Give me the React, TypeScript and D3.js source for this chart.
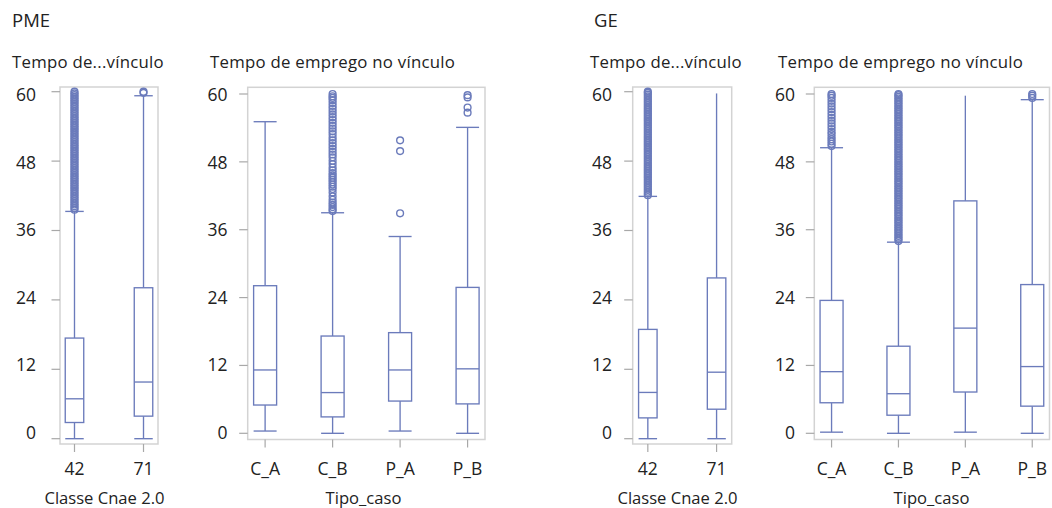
import React from "react";
import * as d3 from "d3";

// ---------- DATA ----------
const yTicks = [0, 12, 24, 36, 48, 60];

const cnaeCats = ["42", "71"];
const tipoCats = ["C_A", "C_B", "P_A", "P_B"];

// PME – Classe Cnae 2.0
const pmeCnaeLow = [0, 0];
const pmeCnaeQ1 = [2.8, 3.9];
const pmeCnaeMed = [6.9, 9.8];
const pmeCnaeQ3 = [17.4, 26.1];
const pmeCnaeHigh = [39.3, 59.3];
const pmeCnaeCap = [true, true];
const pmeCnaeOut42 = [39.6, 39.9, 40.2, 40.5, 40.8, 41.1, 41.4, 41.7, 42.0, 42.3, 42.6, 42.9, 43.2, 43.5, 43.8, 44.1, 44.4, 44.7, 45.0, 45.3, 45.6, 45.9, 46.2, 46.5, 46.8, 47.1, 47.4, 47.7, 48.0, 48.3, 48.6, 48.9, 49.2, 49.5, 49.8, 50.1, 50.4, 50.7, 51.0, 51.3, 51.6, 51.9, 52.2, 52.5, 52.8, 53.1, 53.4, 53.7, 54.0, 54.3, 54.6, 54.9, 55.2, 55.5, 55.8, 56.1, 56.4, 56.7, 57.0, 57.3, 57.6, 57.9, 58.2, 58.5, 58.8, 59.1, 59.4, 59.7, 60.0];
const pmeCnaeOut71 = [59.8, 60.0];

// PME – Tipo_caso
const pmeTipoLow = [0.4, 0, 0.4, 0];
const pmeTipoQ1 = [5.0, 2.9, 5.7, 5.2];
const pmeTipoMed = [11.2, 7.2, 11.2, 11.4];
const pmeTipoQ3 = [26.1, 17.2, 17.8, 25.8];
const pmeTipoHigh = [55.1, 39.0, 34.8, 54.1];
const pmeTipoCap = [true, true, true, true];
const pmeTipoOutCA: number[] = [];
const pmeTipoOutCB = [39.3, 39.6, 40.0, 40.4, 40.8, 41.3, 41.9, 42.6, 43.2, 43.6, 44.0, 44.4, 44.8, 45.2, 45.6, 46.0, 46.5, 47.0, 47.6, 48.2, 48.8, 49.3, 49.8, 50.3, 50.8, 51.3, 51.8, 52.3, 52.9, 53.4, 53.9, 54.4, 54.9, 55.4, 55.9, 56.4, 56.9, 57.4, 57.9, 58.4, 58.9, 59.3, 59.6, 60.0];
const pmeTipoOutPA = [38.9, 49.9, 51.8];
const pmeTipoOutPB = [56.7, 57.6, 59.4, 59.8];

// GE – Classe Cnae 2.0
const geCnaeLow = [0, 0];
const geCnaeQ1 = [3.6, 5.1];
const geCnaeMed = [8.0, 11.5];
const geCnaeQ3 = [18.9, 27.8];
const geCnaeHigh = [41.9, 59.7];
const geCnaeCap = [true, false];
const geCnaeOut42 = [42.1, 42.4, 42.7, 43.0, 43.3, 43.6, 43.9, 44.2, 44.5, 44.8, 45.1, 45.4, 45.7, 46.0, 46.3, 46.6, 46.9, 47.2, 47.5, 47.8, 48.1, 48.4, 48.7, 49.0, 49.3, 49.6, 49.9, 50.2, 50.5, 50.8, 51.1, 51.4, 51.7, 52.0, 52.3, 52.6, 52.9, 53.2, 53.5, 53.8, 54.1, 54.4, 54.7, 55.0, 55.3, 55.6, 55.9, 56.2, 56.5, 56.8, 57.1, 57.4, 57.7, 58.0, 58.3, 58.6, 58.9, 59.2, 59.5, 59.8, 60.0];
const geCnaeOut71: number[] = [];

// GE – Tipo_caso
const geTipoLow = [0.2, 0, 0.2, 0];
const geTipoQ1 = [5.4, 3.2, 7.3, 4.8];
const geTipoMed = [10.9, 7.0, 18.6, 11.8];
const geTipoQ3 = [23.5, 15.4, 41.1, 26.3];
const geTipoHigh = [50.5, 33.8, 59.7, 59.0];
const geTipoCap = [true, true, false, true];
const geTipoOutCA = [50.8, 51.2, 51.6, 52.0, 52.4, 52.9, 53.3, 53.8, 54.3, 54.8, 55.3, 55.8, 56.3, 56.8, 57.3, 57.8, 58.3, 58.8, 59.3, 59.7, 60.0];
const geTipoOutCB = [34.0, 34.3, 34.6, 34.9, 35.2, 35.5, 35.8, 36.1, 36.4, 36.7, 37.0, 37.3, 37.6, 37.9, 38.2, 38.5, 38.8, 39.1, 39.4, 39.7, 40.0, 40.3, 40.6, 40.9, 41.2, 41.5, 41.8, 42.1, 42.4, 42.7, 43.0, 43.3, 43.6, 43.9, 44.2, 44.5, 44.8, 45.1, 45.4, 45.7, 46.0, 46.3, 46.6, 46.9, 47.2, 47.5, 47.8, 48.1, 48.4, 48.7, 49.0, 49.3, 49.6, 49.9, 50.2, 50.5, 50.8, 51.1, 51.4, 51.7, 52.0, 52.3, 52.6, 52.9, 53.2, 53.5, 53.8, 54.1, 54.4, 54.7, 55.0, 55.3, 55.6, 55.9, 56.2, 56.5, 56.8, 57.1, 57.4, 57.7, 58.0, 58.3, 58.6, 58.9, 59.2, 59.5, 59.8, 60.0];
const geTipoOutPA: number[] = [];
const geTipoOutPB = [59.3, 59.7, 60.0];

// ---------- STYLE ----------
const FONT = "'Open Sans', 'Noto Sans', sans-serif";
const BLUE = "#6b7bbb";
const FRAME = "#d3d3d3";
const TICK = "#a8a8a8";
const TEXT = "#222222";

type PanelCfg = {
  x0: number; x1: number; top: number; bottom: number;
  yZero: number; ySixty: number; lblZero: number; lblSixty: number;
  labelRight: number; pad: number; boxW: number;
  cats: string[]; low: number[]; q1: number[]; med: number[]; q3: number[]; high: number[];
  cap: boolean[]; outs: number[][];
  subtitle: string; subX: number; axisTitle: string; axisX: number;
};

const panels: PanelCfg[] = [
  {
    x0: 60, x1: 158, top: 87, bottom: 444, yZero: 438.7, ySixty: 91.7, lblZero: 432.5, lblSixty: 95,
    labelRight: 36, pad: 0.21, boxW: 18.5,
    cats: cnaeCats, low: pmeCnaeLow, q1: pmeCnaeQ1, med: pmeCnaeMed, q3: pmeCnaeQ3, high: pmeCnaeHigh,
    cap: pmeCnaeCap, outs: [pmeCnaeOut42, pmeCnaeOut71],
    subtitle: "Tempo de...vínculo", subX: 12, axisTitle: "Classe Cnae 2.0", axisX: 104.5,
  },
  {
    x0: 247.7, x1: 485, top: 87.3, bottom: 439.5, yZero: 433.3, ySixty: 94, lblZero: 432.5, lblSixty: 95,
    labelRight: 227.5, pad: 0.258, boxW: 23,
    cats: tipoCats, low: pmeTipoLow, q1: pmeTipoQ1, med: pmeTipoMed, q3: pmeTipoQ3, high: pmeTipoHigh,
    cap: pmeTipoCap, outs: [pmeTipoOutCA, pmeTipoOutCB, pmeTipoOutPA, pmeTipoOutPB],
    subtitle: "Tempo de emprego no vínculo", subX: 210, axisTitle: "Tipo_caso", axisX: 363.5,
  },
  {
    x0: 632.7, x1: 731.7, top: 87, bottom: 444, yZero: 438.7, ySixty: 91.7, lblZero: 432.5, lblSixty: 95,
    labelRight: 612, pad: 0.22, boxW: 18.5,
    cats: cnaeCats, low: geCnaeLow, q1: geCnaeQ1, med: geCnaeMed, q3: geCnaeQ3, high: geCnaeHigh,
    cap: geCnaeCap, outs: [geCnaeOut42, geCnaeOut71],
    subtitle: "Tempo de...vínculo", subX: 590, axisTitle: "Classe Cnae 2.0", axisX: 677.5,
  },
  {
    x0: 814.3, x1: 1049.5, top: 87.3, bottom: 439.5, yZero: 433.3, ySixty: 94, lblZero: 432.5, lblSixty: 95,
    labelRight: 795, pad: 0.258, boxW: 23,
    cats: tipoCats, low: geTipoLow, q1: geTipoQ1, med: geTipoMed, q3: geTipoQ3, high: geTipoHigh,
    cap: geTipoCap, outs: [geTipoOutCA, geTipoOutCB, geTipoOutPA, geTipoOutPB],
    subtitle: "Tempo de emprego no vínculo", subX: 778, axisTitle: "Tipo_caso", axisX: 931.5,
  },
];

function Panel({ p }: { p: PanelCfg }) {
  const x = d3.scalePoint<string>().domain(p.cats).range([p.x0, p.x1]).padding(p.pad);
  const y = d3.scaleLinear().domain([0, 60]).range([p.yZero, p.ySixty]);
  const yl = d3.scaleLinear().domain([0, 60]).range([p.lblZero, p.lblSixty]);
  const hw = p.boxW / 2;
  return (
    <g>
      <text x={p.subX} y={67.5} fontSize={16.8} letterSpacing={0.25} fill={TEXT} fontFamily={FONT}>{p.subtitle}</text>
      <rect x={p.x0} y={p.top} width={p.x1 - p.x0} height={p.bottom - p.top} fill="none" stroke={FRAME} strokeWidth={1.5} />
      {yTicks.map((t) => (
        <g key={t}>
          <line x1={p.x0 - 8.5} x2={p.x0} y1={y(t)} y2={y(t)} stroke={TICK} strokeWidth={1.2} />
          <text x={p.labelRight} y={yl(t)} dy="0.36em" textAnchor="end" fontSize={17.5} fill={TEXT} fontFamily={FONT}>{t}</text>
        </g>
      ))}
      {p.cats.map((c, i) => {
        const cx = x(c)!;
        return (
          <g key={c}>
            <line x1={cx} x2={cx} y1={p.bottom} y2={p.bottom + 8} stroke={TICK} strokeWidth={1.2} />
            <text x={cx} y={474.5} textAnchor="middle" fontSize={17.5} fill={TEXT} fontFamily={FONT}>{c}</text>
            {/* whiskers */}
            <line x1={cx} x2={cx} y1={y(p.q3[i])} y2={y(p.high[i])} stroke={BLUE} strokeWidth={1.35} />
            <line x1={cx} x2={cx} y1={y(p.q1[i])} y2={y(p.low[i])} stroke={BLUE} strokeWidth={1.35} />
            {p.cap[i] && (
              <line x1={cx - hw} x2={cx + hw} y1={y(p.high[i])} y2={y(p.high[i])} stroke={BLUE} strokeWidth={1.35} />
            )}
            <line x1={cx - hw} x2={cx + hw} y1={y(p.low[i])} y2={y(p.low[i])} stroke={BLUE} strokeWidth={1.35} />
            {/* box */}
            <rect x={cx - hw} y={y(p.q3[i])} width={p.boxW} height={y(p.q1[i]) - y(p.q3[i])} fill="white" stroke={BLUE} strokeWidth={1.35} />
            <line x1={cx - hw} x2={cx + hw} y1={y(p.med[i])} y2={y(p.med[i])} stroke={BLUE} strokeWidth={1.35} />
            {/* outliers */}
            {p.outs[i].map((v, k) => (
              <circle key={k} cx={cx} cy={y(v)} r={3.4} fill="none" stroke={BLUE} strokeWidth={1.4} />
            ))}
          </g>
        );
      })}
      <text x={p.axisX} y={504} textAnchor="middle" fontSize={16.6} fill={TEXT} fontFamily={FONT}>{p.axisTitle}</text>
    </g>
  );
}

export default function App() {
  return (
    <svg width={1052} height={508} style={{ position: "absolute", left: 0, top: 0, background: "white" }}>
      <rect width={1052} height={508} fill="white" />
      <text x={12} y={27} fontSize={18.5} fill={TEXT} fontFamily={FONT}>PME</text>
      <text x={594} y={27} fontSize={18.5} fill={TEXT} fontFamily={FONT}>GE</text>
      {panels.map((p, i) => (
        <Panel key={i} p={p} />
      ))}
    </svg>
  );
}
